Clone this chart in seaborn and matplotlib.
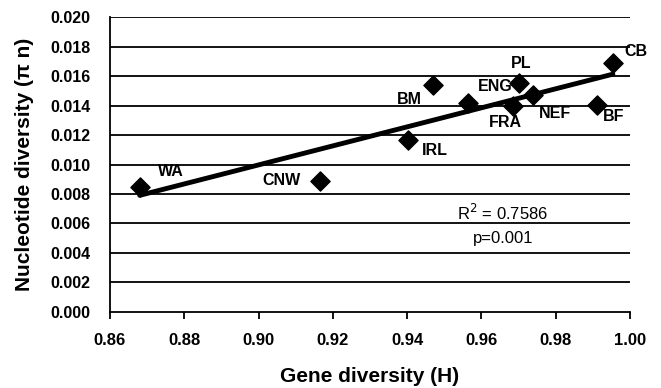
import numpy as np
import pandas as pd
import matplotlib
matplotlib.use("Agg")
import matplotlib.pyplot as plt
import seaborn as sns

# Population codes and diversity values
populations = ["WA", "CNW", "IRL", "BM", "ENG", "PL", "FRA", "NEF", "BF", "CB"]
gene_div = [0.868, 0.9166, 0.9402, 0.947, 0.9564, 0.9701, 0.9685, 0.9739, 0.9911, 0.9954]
nuc_div = [0.0085, 0.0089, 0.01166, 0.01539, 0.01417, 0.01553, 0.01397, 0.01471, 0.01403, 0.01688]

# label offsets in pixels (dx, dy) relative to each marker
label_offsets = {
    "WA": (18, 15), "CNW": (-58, 0), "IRL": (14, -10), "BM": (-36, -14),
    "ENG": (10, 17), "PL": (-8, 19), "FRA": (-24, -17), "NEF": (6, -18),
    "BF": (6, -11), "CB": (12, 12),
}

df = pd.DataFrame({"H": gene_div, "pi": nuc_div, "pop": populations})

sns.set_style("white")
plt.rcParams["font.family"] = ["Liberation Sans", "DejaVu Sans"]
plt.rcParams["text.color"] = "black"
plt.rcParams["axes.labelcolor"] = "black"
plt.rcParams["xtick.color"] = "black"
plt.rcParams["ytick.color"] = "black"

fig = plt.figure(figsize=(6.61, 3.88), dpi=100)
ax = fig.add_axes([0.1664, 0.196, 0.7866, 0.76])

# horizontal grid lines
for yv in np.arange(0.002, 0.0201, 0.002):
    ax.axhline(yv, color="black", lw=1.3, zorder=0)

sns.regplot(data=df, x="H", y="pi", ax=ax, ci=None, truncate=True, marker="D",
            scatter_kws={"s": 95, "color": "black", "zorder": 3, "alpha": 1},
            line_kws={"color": "black", "lw": 3.5, "zorder": 2})

for _, row in df.iterrows():
    dx, dy = label_offsets[row["pop"]]
    ax.annotate(row["pop"], (row["H"], row["pi"]), xytext=(dx, dy),
                textcoords="offset pixels", fontsize=11.5, fontweight="bold",
                ha="left", va="center")

ax.text(0.9658, 0.0067, "R$^2$ = 0.7586", ha="center", va="center", fontsize=12)
ax.text(0.9658, 0.0050, "p=0.001", ha="center", va="center", fontsize=12)

ax.set_xlim(0.86, 1.00)
ax.set_ylim(0.0, 0.020)
ax.set_xticks(np.arange(0.86, 1.001, 0.02))
ax.set_yticks(np.arange(0.0, 0.0201, 0.002))
ax.xaxis.set_major_formatter(matplotlib.ticker.FormatStrFormatter("%.2f"))
ax.yaxis.set_major_formatter(matplotlib.ticker.FormatStrFormatter("%.3f"))
ax.tick_params(axis="x", direction="out", length=5, width=1.3, labelsize=12, pad=10, bottom=True)
ax.tick_params(axis="y", length=0, labelsize=11.5, pad=14)
for lab in ax.get_xticklabels() + ax.get_yticklabels():
    lab.set_fontweight("bold")

for spine in ["top", "right"]:
    ax.spines[spine].set_visible(False)
for spine in ["left", "bottom"]:
    ax.spines[spine].set_color("black")
    ax.spines[spine].set_linewidth(1.3)

ax.set_xlabel("Gene diversity (H)", fontsize=15, fontweight="bold", labelpad=14)
ax.set_ylabel("Nucleotide diversity (\u03c0 n)", fontsize=15, fontweight="bold", labelpad=12)

fig.savefig("out.png", dpi=100)
